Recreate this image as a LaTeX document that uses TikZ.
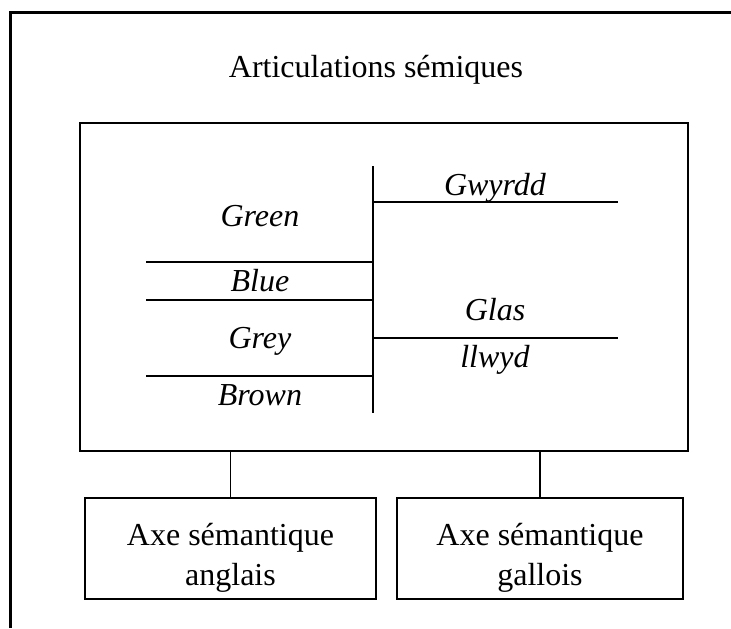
\documentclass[tikz,border=0pt]{standalone}
\usepackage{fontspec}
\setmainfont{Liberation Serif}
\usepackage{tikz}

\tikzset{
  axebox/.style={draw,line width=0.75pt,minimum width=#1,minimum height=50.5pt,inner sep=0pt},
  axetexte/.style={align=center,inner sep=0pt,font=\fontsize{16}{20}\selectfont},
  mot/.style={anchor=base,inner sep=0pt,font=\fontsize{16}{18.5}\selectfont\itshape}
}

\begin{document}
\begin{tikzpicture}[x=0.5pt,y=-0.5pt]
\useasboundingbox (0,0) rectangle (731,628);
\draw[line width=1.5pt] (10,628) -- (10,12) -- (731,12);
\node[anchor=base,inner sep=0pt,font=\fontsize{16}{18.5}\selectfont] (titre) at (376,77) {Articulations sémiques};
\node[draw,line width=1.15pt,minimum width=304pt,minimum height=164pt,inner sep=0pt] (articulations) at (384,287) {};
% grille des mots
\draw[line width=1pt] (373,166) -- (373,413);
\draw[line width=1pt] (146,262) -- (373,262);
\draw[line width=1pt] (146,300) -- (373,300);
\draw[line width=1pt] (146,376) -- (373,376);
\draw[line width=1pt] (373,202) -- (618,202);
\draw[line width=1pt] (373,338) -- (618,338);
\node[mot] (green) at (260,226) {Green};
\node[mot] (blue) at (260,291) {Blue};
\node[mot] (grey) at (260,348) {Grey};
\node[mot] (brown) at (260,405) {Brown};
\node[mot] (gwyrdd) at (495,195) {Gwyrdd};
\node[mot] (glas) at (495,320) {Glas};
\node[mot] (llwyd) at (495,367) {llwyd};
% axes
\node[axebox=145.5pt] (anglais) at (230.5,548.5) {};
\node[axebox=143pt] (gallois) at (540,548.5) {};
\node[axetexte] (anglaistexte) at ([yshift=-4.5pt]anglais.center) {Axe sémantique\\anglais};
\node[axetexte] (galloistexte) at ([yshift=-4.5pt]gallois.center) {Axe sémantique\\gallois};
\draw[line width=0.75pt] (anglais.north) -- (anglais.north |- articulations.south);
\draw[line width=0.75pt] (gallois.north) -- (gallois.north |- articulations.south);
\end{tikzpicture}
\end{document}
